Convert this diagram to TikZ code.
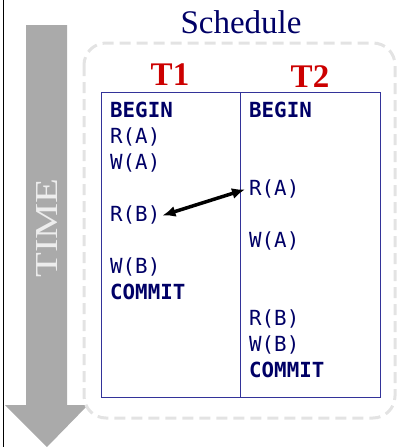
\documentclass[tikz,border=0pt]{standalone}
\usepackage{fontspec}
\setmainfont{Liberation Serif}
\setmonofont{DejaVu Sans Mono}
\usetikzlibrary{arrows.meta}
\definecolor{navy}{HTML}{000066}
\definecolor{tablebl}{HTML}{333399}
\definecolor{txred}{HTML}{CC0000}
\definecolor{timegray}{HTML}{AAAAAA}
\definecolor{dashgray}{HTML}{E3E3E3}
\tikzset{
  op/.style={anchor=base west, inner sep=0pt, text=navy,
    font=\ttfamily\fontsize{20.8}{24}\selectfont},
  opb/.style={op, font=\ttfamily\bfseries\fontsize{20.8}{24}\selectfont},
  txname/.style={anchor=base, inner sep=0pt, text=txred,
    font=\bfseries\fontsize{33}{36}\selectfont},
  conflict/.style={line width=3.5pt, >={Latex[length=13pt,width=11pt]}, <->},
}
\begin{document}
\begin{tikzpicture}[x=1pt,y=-1pt]
  \useasboundingbox (0,0) rectangle (399,447);
  % left rule
  \draw[line width=1.5pt] (3.5,0) -- (3.5,447);
  % time arrow
  \fill[timegray] (26,25) -- (67,25) -- (67,405) -- (88,405) -- (47,447)
    -- (5,405) -- (26,405) -- cycle;
  \node[rotate=90, inner sep=0pt, text=white!93!black,
    font=\fontsize{32}{34}\selectfont] (time) at (47.5,228) {\scalebox{1.27}[1]{TIME}};
  % schedule frame
  \draw[dashgray, line width=3pt, dash pattern=on 11pt off 6pt,
    rounded corners=22pt] (84,43) rectangle (395,418);
  \node[anchor=base, inner sep=0pt, text=navy,
    font=\fontsize{33}{36}\selectfont] (title) at (241,33) {Schedule};
  \node[txname] (t1) at (170,85) {T1};
  \node[txname] (t2) at (310,87) {T2};
  % table
  \draw[tablebl, line width=1pt] (101,92) rectangle (380,397);
  \draw[tablebl, line width=1pt] (240,92) -- (240,397);
  % T1 operations
  \node[opb] (a1) at (110,117) {BEGIN};
  \node[op]  (a2) at (110,143) {R(A)};
  \node[op]  (a3) at (110,169) {W(A)};
  \node[op]  (a5) at (110,221) {R(B)};
  \node[op]  (a7) at (110,273) {W(B)};
  \node[opb] (a8) at (110,299) {COMMIT};
  % T2 operations
  \node[opb] (b1) at (249,117) {BEGIN};
  \node[op]  (b4) at (249,195) {R(A)};
  \node[op]  (b6) at (249,247) {W(A)};
  \node[op]  (b9) at (249,325) {R(B)};
  \node[op]  (b10) at (249,351) {W(B)};
  \node[opb] (b11) at (249,377) {COMMIT};
  % conflict
  \draw[conflict]
    ([xshift=2pt,yshift=-1pt]a5.east) -- ([xshift=-4pt,yshift=-1pt]b4.west);
\end{tikzpicture}
\end{document}
